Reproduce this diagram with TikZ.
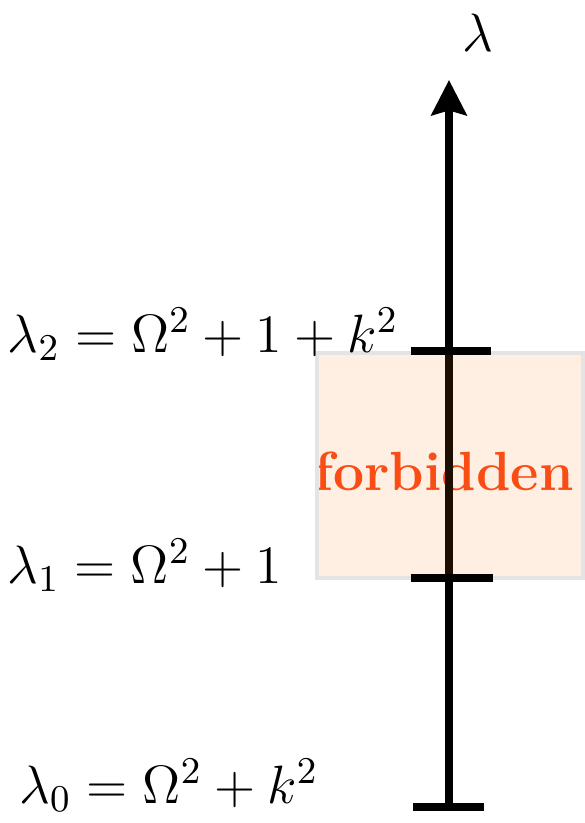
\RequirePackage{fix-cm}
\documentclass[tikz,border=0pt]{standalone}
\usepackage{amsmath,amssymb}
\usetikzlibrary{arrows.meta, positioning, calc}
\definecolor{forbid}{RGB}{245,120,20}
\definecolor{forbidtxt}{RGB}{250,72,22}
\definecolor{boxgray}{RGB}{228,228,228}

\begin{document}
\begin{tikzpicture}[
  x=0.25pt, y=-0.25pt,
  >={Stealth[length=8.8pt, width=8.8pt, inset=1.2pt]},
  axis/.style={->, line width=1.8pt, black},
  tick/.style={line width=2pt, black},
  lab/.style={anchor=base east, inner sep=0pt, font=\fontsize{13.5}{16}\selectfont},
]

% Frame
\useasboundingbox (0,0) rectangle (585,823);

% =============================================
% Forbidden band (text below the axis)
% =============================================
\node[font=\fontsize{13.8}{16}\selectfont\bfseries, text=forbidtxt, anchor=base,
  inner sep=0pt] (forb) at (444,490) {forbidden};

% =============================================
% Axis
% =============================================
\coordinate (bot) at (449,808);
\coordinate (top) at (449,80);
\draw[axis] (bot) -- (top);
\node[font=\fontsize{13.5}{16}\selectfont, anchor=base, inner sep=0pt] (lam) at (478,52) {$\lambda$};

% Tinted box on top of axis and text
\draw[boxgray, line width=1pt, fill=forbid, fill opacity=0.12]
  (317,353) rectangle (583,578);

% =============================================
% Ticks
% =============================================
\draw[tick] (411,351) coordinate (t2l) -- (491,351) coordinate (t2r);
\draw[tick] (411,578) coordinate (t1l) -- (493,578) coordinate (t1r);
\draw[tick] (413,807) coordinate (t0l) -- (484,807) coordinate (t0r);

% =============================================
% Labels
% =============================================
\node[lab] (l2) at (399,352) {$\lambda_2 = \Omega^2 + 1 + k^2$};
\node[lab] (l1) at (283,583) {$\lambda_1 = \Omega^2 + 1$};
\node[lab] (l0) at (319,803) {$\lambda_0 = \Omega^2 + k^2$};

\end{tikzpicture}
\end{document}
